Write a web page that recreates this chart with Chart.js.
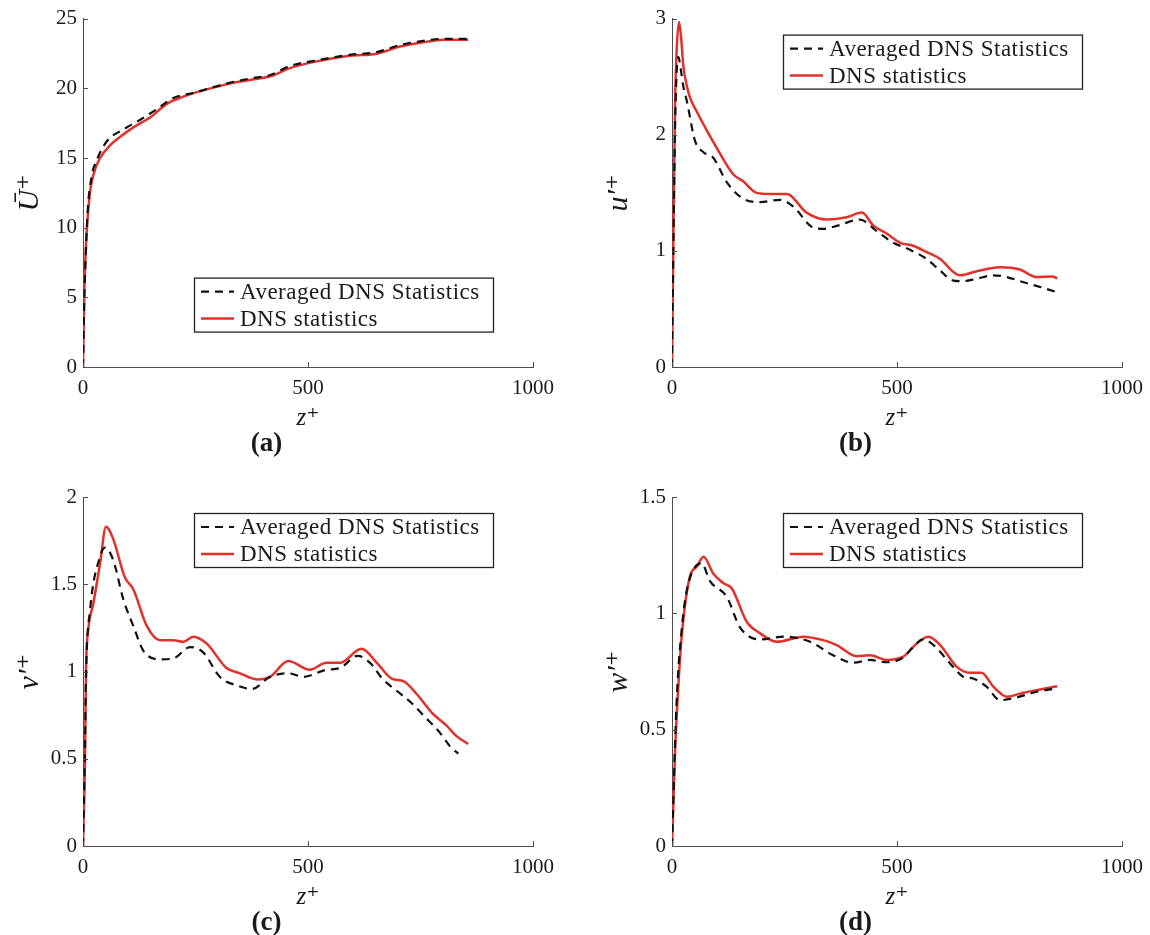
<!DOCTYPE html>
<html>
<head>
<meta charset="utf-8">
<script src="https://cdn.jsdelivr.net/npm/chart.js@4.4.1/dist/chart.umd.min.js"></script>
<style>
  html, body { margin: 0; padding: 0; background: #fff; overflow: hidden; }
  #wrap { position: relative; width: 1150px; height: 935px; overflow: hidden; }
  canvas { position: absolute; }
</style>
</head>
<body>
<div id="wrap">
  <canvas id="chartA" width="564" height="467" style="left:0;top:0"></canvas>
  <canvas id="chartB" width="564" height="467" style="left:589px;top:0"></canvas>
  <canvas id="chartC" width="564" height="469" style="left:0;top:467px"></canvas>
  <canvas id="chartD" width="564" height="469" style="left:589px;top:467px"></canvas>
</div>
<script>
// Data (z+ positions and profile values)
const seriesNames = ['Averaged DNS Statistics', 'DNS statistics'];
const xTicks = [0, 500, 1000];

// (a) mean velocity
const zMeanAvg = [0, 3, 5, 10, 20, 30, 53, 90, 130, 164, 201, 250, 297, 333, 371, 416, 460, 519, 593, 653, 704, 756, 801, 856];
const uMeanAvg = [0, 5, 7, 11, 13.8, 14.8, 16.2, 17.05, 17.8, 18.5, 19.3, 19.7, 20.15, 20.45, 20.7, 20.95, 21.6, 22.0, 22.4, 22.6, 23.1, 23.4, 23.55, 23.55];
const zMeanDns = [0, 3, 8, 15, 23, 38, 60, 82, 112, 149, 187, 223, 260, 297, 333, 371, 416, 460, 519, 593, 653, 704, 756, 801, 856];
const uMeanDns = [0, 5.5, 9.6, 12.4, 13.8, 15.0, 15.9, 16.5, 17.2, 17.9, 18.9, 19.4, 19.8, 20.1, 20.4, 20.6, 20.86, 21.45, 21.93, 22.33, 22.48, 23.0, 23.3, 23.48, 23.48];
const yTicksA = [0, 5, 10, 15, 20, 25];

// (b) u' rms
const zUrmsAvg = [0, 3, 7, 10, 14, 20, 25, 33, 51, 70, 92, 122, 158, 196, 240, 270, 314, 336, 370, 418, 455, 492, 529, 566, 596, 625, 647, 677, 714, 744, 781, 818, 855];
const uRmsAvg = [0, 1.0, 2.1, 2.5, 2.67, 2.55, 2.42, 2.29, 1.95, 1.85, 1.80, 1.59, 1.45, 1.42, 1.44, 1.38, 1.20, 1.19, 1.22, 1.27, 1.17, 1.07, 1.01, 0.93, 0.83, 0.745, 0.74, 0.76, 0.79, 0.775, 0.73, 0.69, 0.645];
const zUrmsDns = [0, 3, 7, 10, 15.6, 20, 25, 33, 40, 55, 70, 99, 136, 158, 188, 218, 255, 299, 344, 388, 422, 447, 477, 507, 536, 566, 596, 625, 640, 677, 729, 773, 810, 844, 856];
const uRmsDns = [0, 1.1, 2.3, 2.7, 2.97, 2.85, 2.6, 2.42, 2.32, 2.2, 2.09, 1.89, 1.66, 1.60, 1.50, 1.49, 1.49, 1.33, 1.27, 1.29, 1.33, 1.22, 1.15, 1.07, 1.045, 0.99, 0.93, 0.82, 0.79, 0.825, 0.86, 0.84, 0.775, 0.78, 0.765];
const yTicksB = [0, 1, 2, 3];

// (c) v' rms
const zVrmsAvg = [0, 4, 7, 15.6, 38, 49, 67, 90, 112, 134, 171, 201, 238, 267, 304, 342, 375, 416, 456, 490, 541, 571, 610, 638, 665, 697, 730, 756, 793, 816, 834];
const vRmsAvg = [0, 0.5, 1.0, 1.35, 1.66, 1.71, 1.64, 1.41, 1.26, 1.12, 1.07, 1.075, 1.14, 1.11, 0.97, 0.92, 0.90, 0.97, 0.99, 0.97, 1.01, 1.02, 1.09, 1.05, 0.96, 0.89, 0.82, 0.75, 0.65, 0.57, 0.53];
const zVrmsDns = [0, 4.4, 6.7, 11.8, 23, 38, 51, 67, 93, 112, 142, 171, 201, 223, 245, 275, 319, 349, 386, 416, 456, 504, 541, 571, 619, 653, 686, 712, 742, 775, 808, 830, 856];
const vRmsDns = [0, 0.49, 1.01, 1.24, 1.39, 1.62, 1.83, 1.76, 1.54, 1.47, 1.26, 1.18, 1.18, 1.17, 1.20, 1.16, 1.02, 0.99, 0.955, 0.97, 1.06, 1.01, 1.05, 1.05, 1.13, 1.05, 0.96, 0.945, 0.87, 0.765, 0.69, 0.63, 0.585];
const yTicksC = [0, 0.5, 1, 1.5, 2];

// (d) w' rms
const zWrmsAvg = [0, 10, 21.5, 33, 66, 84, 122, 151, 196, 247, 307, 358, 403, 440, 477, 514, 536, 558, 581, 618, 647, 669, 699, 729, 758, 810, 855];
const wRmsAvg = [0, 0.61, 0.93, 1.10, 1.215, 1.14, 1.07, 0.94, 0.888, 0.90, 0.878, 0.82, 0.788, 0.80, 0.79, 0.81, 0.856, 0.888, 0.864, 0.785, 0.728, 0.72, 0.685, 0.627, 0.635, 0.663, 0.678];
const zWrmsDns = [0, 6.7, 14, 21.5, 40, 55, 70, 92, 114, 133, 166, 196, 233, 292, 336, 366, 410, 440, 477, 514, 544, 570, 596, 633, 662, 688, 714, 744, 781, 818, 856];
const wRmsDns = [0, 0.40, 0.685, 0.90, 1.16, 1.20, 1.243, 1.17, 1.13, 1.107, 0.964, 0.914, 0.878, 0.90, 0.885, 0.864, 0.816, 0.82, 0.80, 0.814, 0.871, 0.90, 0.864, 0.77, 0.745, 0.745, 0.685, 0.642, 0.659, 0.673, 0.687];
const yTicksD = [0, 0.5, 1, 1.5];

// Styles
const serif = "'Liberation Serif', 'DejaVu Serif', serif";
const axisColor = '#4d4d4d';
const textColor = '#1a1a1a';
const avgStyle = { borderColor: '#111111', borderDash: [8, 6], borderWidth: 2.2 };
const dnsStyle = { borderColor: '#e3312a', borderDash: [], borderWidth: 2.5 };

Chart.defaults.font.family = serif;
Chart.defaults.color = textColor;

function toPoints(zs, vs) {
    return zs.map((z, i) => ({ x: z, y: vs[i] }));
}

// MATLAB style ticks pointing into the plot
const inwardTicks = {
    id: 'inwardTicks',
    afterDatasetsDraw(chart) {
        const { ctx, chartArea, scales } = chart;
        ctx.save();
        ctx.strokeStyle = axisColor;
        ctx.lineWidth = 1;
        ctx.beginPath();
        scales.x.ticks.forEach(t => {
            const px = Math.round(scales.x.getPixelForValue(t.value)) + 0.5;
            ctx.moveTo(px, chartArea.bottom);
            ctx.lineTo(px, chartArea.bottom - 5);
        });
        scales.y.ticks.forEach(t => {
            const py = Math.round(scales.y.getPixelForValue(t.value)) + 0.5;
            ctx.moveTo(chartArea.left, py);
            ctx.lineTo(chartArea.left + 5, py);
        });
        ctx.stroke();
        ctx.restore();
    }
};

// Boxed legend inside the plot area
const boxLegend = {
    id: 'boxLegend',
    afterDraw(chart, args, opts) {
        const { ctx, chartArea } = chart;
        const x0 = chartArea.left + opts.left;
        const y0 = chartArea.top + opts.top;
        ctx.save();
        ctx.fillStyle = '#fff';
        ctx.fillRect(x0, y0, opts.width, opts.height);
        ctx.strokeStyle = '#222';
        ctx.lineWidth = 1.3;
        ctx.strokeRect(x0 + 0.5, y0 + 0.5, opts.width, opts.height);
        chart.data.datasets.forEach((ds, i) => {
            const rowY = y0 + opts.rowTop + i * opts.rowGap;
            ctx.beginPath();
            ctx.setLineDash(ds.borderDash || []);
            ctx.strokeStyle = ds.borderColor;
            ctx.lineWidth = ds.borderWidth;
            ctx.moveTo(x0 + 7, rowY);
            ctx.lineTo(x0 + 40, rowY);
            ctx.stroke();
            ctx.setLineDash([]);
            ctx.fillStyle = textColor;
            ctx.font = '23px ' + serif;
            ctx.letterSpacing = '0.5px';
            ctx.textBaseline = 'middle';
            ctx.textAlign = 'left';
            ctx.fillText(ds.label, x0 + 46, rowY + 1);
        });
        ctx.restore();
    }
};

function makePanel(id, avgZ, avgV, dnsZ, dnsV, yTicks, yTitle, label, legendTop, pad) {
    const ctx = document.getElementById(id).getContext('2d');
    return new Chart(ctx, {
        type: 'line',
        data: {
            datasets: [
                Object.assign({ label: seriesNames[0], data: toPoints(avgZ, avgV) }, avgStyle),
                Object.assign({ label: seriesNames[1], data: toPoints(dnsZ, dnsV) }, dnsStyle)
            ]
        },
        options: {
            responsive: false,
            animation: false,
            layout: { padding: { left: 0, right: 31, top: pad.top, bottom: pad.bottom } },
            elements: {
                point: { radius: 0 },
                line: { cubicInterpolationMode: 'monotone', fill: false }
            },
            plugins: {
                legend: { display: false },
                tooltip: { enabled: false },
                title: {
                    display: true,
                    text: label,
                    position: 'bottom',
                    padding: 0,
                    color: textColor,
                    font: { size: 27, weight: 'bold', lineHeight: 0.9 }
                },
                boxLegend: { left: 111, top: legendTop, width: 299, height: 54, rowTop: 14, rowGap: 27 }
            },
            scales: {
                x: {
                    type: 'linear',
                    min: xTicks[0],
                    max: xTicks[xTicks.length - 1],
                    afterBuildTicks: s => { s.ticks = xTicks.map(v => ({ value: v })); },
                    afterFit: s => { s.height = 65; },
                    grid: { display: false, drawTicks: false },
                    border: { display: true, color: axisColor, width: 1 },
                    ticks: { padding: 9, color: textColor, font: { size: 21 }, maxRotation: 0, callback: v => String(v) },
                    title: {
                        display: true,
                        text: 'z\u207A',
                        color: textColor,
                        padding: { top: 0, bottom: 1.5 },
                        font: { size: 25, style: 'italic', lineHeight: 1.0 }
                    }
                },
                y: {
                    type: 'linear',
                    min: yTicks[0],
                    max: yTicks[yTicks.length - 1],
                    afterBuildTicks: s => { s.ticks = yTicks.map(v => ({ value: v })); },
                    afterFit: s => { s.width = 83; },
                    grid: { display: false, drawTicks: false },
                    border: { display: true, color: axisColor, width: 1 },
                    ticks: { padding: 6, color: textColor, font: { size: 21 }, callback: v => String(v) },
                    title: {
                        display: true,
                        text: yTitle,
                        color: textColor,
                        padding: { top: 12, bottom: 0 },
                        font: { size: 30, style: 'italic', lineHeight: 1.2 }
                    }
                }
            }
        },
        plugins: [inwardTicks, boxLegend]
    });
}

const topPad = { top: 17, bottom: 10.6 };
const bottomPad = { top: 30, bottom: 0.6 };

makePanel('chartA', zMeanAvg, uMeanAvg, zMeanDns, uMeanDns, yTicksA, '\u016A\u207A', '(a)', 259, topPad);
makePanel('chartB', zUrmsAvg, uRmsAvg, zUrmsDns, uRmsDns, yTicksB, 'u\u2032\u207A', '(b)', 16, topPad);
makePanel('chartC', zVrmsAvg, vRmsAvg, zVrmsDns, vRmsDns, yTicksC, 'v\u2032\u207A', '(c)', 16, bottomPad);
makePanel('chartD', zWrmsAvg, wRmsAvg, zWrmsDns, wRmsDns, yTicksD, 'w\u2032\u207A', '(d)', 16, bottomPad);
</script>
</body>
</html>
